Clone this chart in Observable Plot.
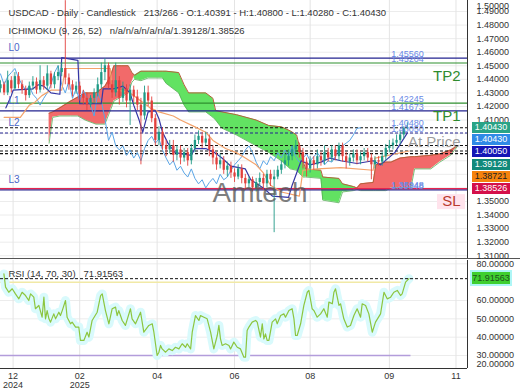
<!DOCTYPE html>
<html><head><meta charset="utf-8">
<script src="https://cdn.jsdelivr.net/npm/d3@7"></script>
<script src="https://cdn.jsdelivr.net/npm/@observablehq/plot@0.6"></script>
<style>
body{margin:0;background:#fff;}
#wrap{position:relative;width:520px;height:390px;overflow:hidden;font-family:"Liberation Sans",Arial,sans-serif;background:#fff;}
#wrap svg{position:absolute;left:0;}
.box{position:absolute;left:472px;width:38px;height:11px;font-size:9px;line-height:11px;text-align:center;}
</style></head><body><div id="wrap"></div>
<script>
// ---------- DATA ----------
const firstOpen = 1.433;
// candles, one every 2 bars (bar = 2*k)
const closes = [1.436,1.430,1.439,1.433,1.442,1.436,1.432,1.428,1.435,1.438,1.432,1.439,1.435,1.444,1.436,1.442,1.445,1.448,1.441,1.436,
1.432,1.435,1.429,1.426,1.421,1.426,1.430,1.436,1.445,1.450,1.436,1.430,1.439,1.426,1.433,1.424,1.432,1.427,1.421,1.413,
1.430,1.424,1.411,1.395,1.401,1.391,1.388,1.391,1.384,1.388,1.382,1.386,1.380,1.389,1.395,1.398,1.393,1.396,1.388,1.382,
1.377,1.380,1.373,1.376,1.371,1.368,1.374,1.367,1.363,1.366,1.360,1.364,1.367,1.363,1.370,1.366,1.368,1.373,1.377,1.380,
1.383,1.388,1.391,1.386,1.379,1.374,1.380,1.377,1.383,1.380,1.386,1.382,1.388,1.383,1.391,1.383,1.379,1.382,1.385,1.380,
1.383,1.386,1.382,1.377,1.380,1.379,1.383,1.389,1.391,1.393,1.395,1.399,1.4039,1.4043];
const highs = [1.439,1.438,1.446,1.442,1.445,1.445,1.439,1.435,1.438,1.442,1.441,1.450,1.442,1.450,1.446,1.445,1.450,1.452,1.498,1.444,
1.439,1.438,1.438,1.432,1.430,1.428,1.433,1.441,1.452,1.455,1.452,1.439,1.452,1.442,1.438,1.436,1.436,1.435,1.432,1.426,
1.435,1.435,1.427,1.414,1.405,1.404,1.395,1.395,1.395,1.391,1.391,1.389,1.389,1.392,1.399,1.402,1.401,1.401,1.399,1.391,
1.386,1.385,1.383,1.379,1.379,1.374,1.377,1.377,1.370,1.368,1.368,1.367,1.371,1.370,1.373,1.373,1.373,1.376,1.380,1.385,
1.388,1.391,1.395,1.393,1.389,1.382,1.383,1.383,1.388,1.386,1.391,1.389,1.391,1.391,1.393,1.393,1.386,1.385,1.388,1.388,
1.386,1.389,1.389,1.385,1.383,1.383,1.386,1.392,1.395,1.396,1.399,1.402,1.405,1.408];
const lows = [1.430,1.428,1.428,1.430,1.432,1.433,1.429,1.424,1.426,1.432,1.429,1.430,1.432,1.432,1.433,1.433,1.439,1.442,1.436,1.432,
1.427,1.429,1.424,1.421,1.417,1.419,1.423,1.427,1.433,1.439,1.433,1.426,1.427,1.421,1.423,1.419,1.406,1.423,1.417,1.377,
1.410,1.420,1.408,1.391,1.391,1.388,1.383,1.385,1.379,1.380,1.377,1.379,1.376,1.377,1.386,1.392,1.389,1.391,1.383,1.377,
1.373,1.374,1.370,1.368,1.367,1.364,1.366,1.363,1.358,1.360,1.357,1.357,1.361,1.358,1.360,1.361,1.327,1.366,1.370,1.374,
1.376,1.380,1.385,1.382,1.374,1.368,1.371,1.373,1.374,1.376,1.377,1.379,1.379,1.380,1.380,1.379,1.374,1.376,1.379,1.377,
1.377,1.380,1.379,1.366,1.374,1.376,1.376,1.380,1.386,1.388,1.391,1.392,1.396,1.4028];

const tenkanBar = [3,6,7,18,21,24,28,33,34,43,44,56,57,63,68,72,74,77,79,82,86,88,90,93,97,106,108,114,119,123,128,136,139,146,151,160,162,167,172,178,183,189,198,207,211,219,226];
const tenkanVal = [1.419,1.428,1.432,1.433,1.436,1.435,1.430,1.429,1.456,1.454,1.422,1.422,1.433,1.433,1.435,1.430,1.421,1.410,1.401,1.416,1.417,1.411,1.401,1.393,1.386,1.384,1.389,1.389,1.386,1.382,1.376,1.374,1.366,1.360,1.354,1.353,1.362,1.380,1.377,1.379,1.382,1.380,1.378,1.380,1.377,1.386,1.4005];

const kijunBar = [2,11,16,19,23,28,34,36,61,62,72,78,83,88,96,100,108,114,118,125,131,136,142,146,150,156,166,168,176,189,207,208,227];
const kijunVal = [1.412,1.412,1.421,1.423,1.428,1.432,1.432,1.448,1.448,1.433,1.430,1.424,1.419,1.416,1.413,1.410,1.405,1.401,1.395,1.389,1.386,1.382,1.377,1.371,1.362,1.357,1.354,1.373,1.374,1.375,1.373,1.382,1.3872];

const cloudBar = [27,29,33,39,43,47,53,58,61,63,67,71,73,74.5,78,82,90,92,99,102,104.5,114,118,119.5,123,131,142,149,156,161,164.5,168,169.5,178,179,188,190,196,198,200,207,208.5,214,217,222,228,230,239,244,250,254];
const senkouA = [1.393,1.412,1.413,1.413,1.413,1.410,1.407,1.407,1.417,1.424,1.427,1.430,1.438,1.443,1.446,1.446,1.446,1.446,1.445,1.436,1.430,1.430,1.426,1.417,1.416,1.414,1.410,1.406,1.405,1.402,1.399,1.380,1.374,1.373,1.368,1.367,1.363,1.361,1.359,1.358,1.358,1.358,1.358,1.360,1.360,1.360,1.374,1.374,1.379,1.384,1.391];
const senkouB = [1.415,1.416,1.419,1.424,1.427,1.430,1.430,1.435,1.442,1.450,1.450,1.450,1.445,1.440,1.439,1.441,1.441,1.437,1.430,1.421,1.416,1.416,1.412,1.410,1.404,1.399,1.391,1.386,1.380,1.374,1.373,1.368,1.368,1.367,1.351,1.349,1.357,1.358,1.360,1.363,1.364,1.377,1.379,1.379,1.382,1.383,1.383,1.384,1.385,1.388,1.391];

const rsiBar = [1.9,2.8,4.6,6.5,8.3,10.2,12.0,13.9,15.7,16.7,18.5,19.4,21.3,23.1,24.1,25.0,25.9,26.9,27.8,29.6,30.6,32.4,33.3,34.3,36.1,37.0,38.9,39.8,41.7,43.5,44.4,46.3,48.1,49.1,50.9,53.7,55.6,56.5,58.3,60.2,62.0,63.9,64.8,65.7,67.6,69.4,72.2,73.1,75.0,77.8,78.7,79.6,82.4,84.3,85.2,87.0,88.0,88.9,89.8,91.7,93.5,95.4,97.2,99.1,100.9,102.8,103.7,105.6,106.5,108.3,110.2,111.1,113.0,114.8,116.7,118.5,120.4,121.3,122.2,123.1,125.0,126.9,127.8,129.6,131.5,133.3,135.2,136.1,137.0,138.0,139.8,141.7,142.6,144.4,145.4,146.3,147.2,148.1,149.1,150.9,152.8,153.7,155.6,157.4,158.3,160.2,162.0,163.0,163.9,164.8,166.7,168.5,170.4,171.3,173.1,174.1,175.9,177.8,179.6,181.5,182.4,184.3,185.2,186.1,188.0,188.9,190.7,192.6,194.4,196.3,198.1,200.0,200.9,202.8,204.6,206.5,208.3,211.1,213.0,214.8,216.7,218.5,220.4,222.2,223.1,225.0,226.9];
const rsiVal = [74.5,67.3,64.5,66.4,63.6,60.9,64.5,62.7,60.0,63.6,61.8,55.5,57.3,50.9,61.8,50.0,54.5,50.0,48.2,52.7,50.0,53.6,51.8,54.5,60.0,50.9,47.3,48.2,45.5,45.5,38.2,38.2,42.7,40.0,49.1,53.6,62.7,63.6,54.5,47.3,55.5,56.4,51.8,54.5,49.1,46.4,55.5,50.0,47.3,53.6,48.2,42.7,46.4,47.3,42.7,30.0,31.8,35.5,33.6,31.8,33.6,32.7,34.5,33.6,36.4,34.5,36.4,33.6,42.7,51.8,49.1,51.8,50.9,50.0,42.7,33.6,40.9,46.4,39.1,35.5,36.4,35.5,33.6,37.3,34.5,33.6,29.1,29.1,43.6,45.5,48.2,49.1,48.2,40.0,47.3,39.1,41.8,38.2,38.2,48.2,50.0,47.3,51.8,52.7,50.9,54.5,55.5,50.0,40.9,40.9,47.3,57.3,64.5,65.5,55.5,54.5,50.9,52.7,55.5,50.9,59.1,58.2,64.5,66.4,57.3,58.2,50.0,45.5,46.4,51.8,55.5,50.9,58.2,57.3,52.7,42.7,48.2,52.7,64.5,60.9,61.8,64.5,65.5,62.7,63.6,70.0,71.91563];

const priceTicks = [1.31,1.32,1.33,1.34,1.35,1.36,1.37,1.38,1.39,1.40,1.41,1.42,1.43,1.44,1.45,1.46,1.47,1.48,1.49];
const topTick = 1.50;
const rsiTicks = [80,60,50,40,30];
const rsiLowTick = 20;
const tickBars = [7,44,87,130,172,216,253];
const tickLabels = ["12\n2024","02\n2025","04","06","08","09","11"];

const levelPrices = [1.4556,1.45204,1.42245,1.41673,1.3585,1.35948];
const priceLabelVals = [1.4556,1.45204,1.42245,1.41673,1.4048,1.4005,1.35948,1.3585];
const priceLabelText = ["1.45560","1.45204","1.42245","1.41673","1.40480","1.40050","1.35948","1.35848"];
const dashPrices = [1.4043,1.4005,1.39128,1.38721,1.38526];
const lPrices = [1.4556,1.41673,1.4005,1.3585];
const lText = ["L0","L1","L2","L3"];
const tpPrices = [1.45204,1.42245,1.35948];
const tpText = ["TP2","TP1","SL"];
const boxValues = [1.4043,1.4043,1.4005,1.39128,1.38721,1.38526];
const boxLabels = ["1.40430","1.40430","1.40050","1.39128","1.38721","1.38526"];
const rsiLast = 71.91563;
const header1 = "USDCAD - Daily - Candlestick   213/266 - O:1.40391 - H:1.40800 - L:1.40280 - C:1.40430";
const header2 = "ICHIMOKU (9, 26, 52)   n/a/n/a/n/a/n/a/1.39128/1.38526";
const rsiHeader = "RSI (14, 70, 30)   71.91563";
const watermark = "Amtech";

// ---------- STYLE ----------
const FONT = "'Liberation Sans', Arial, sans-serif";
const UP = "#1f9a86", DN = "#e2403c";
const NAVY = "#23238f", GREEN = "#2f8f2f", RED = "#e8254f";
const levelColors = [NAVY, GREEN, GREEN, NAVY, NAVY, RED];
const dashColors = ["#111", NAVY, "#111", "#111", "#111"];
const tpColors = ["#2e8b2e", "#2e8b2e", "#b83a2e"];
const boxBg = ["#2aa386","#2f8ae6","#1515b5","#11897a","#f5820d","#d4104a"];
const boxFg = ["#fff","#fff","#fff","#fff","#222","#fff"];

const W = 520, PLOTW = 467, MAINH = 260, MAINB = 2;
const xDomain = [0, 259.4];
const pxBar = (xDomain[1] - xDomain[0]) / PLOTW;
const yDomain = [1.30797, 1.49811];
const rsiDomain = [22.91, 81.82];
const lastBar = 2 * (closes.length - 1);

// ---------- DERIVED TABLES ----------
const candles = closes.map((c, k) => ({x: 2 * k, o: k ? closes[k - 1] : firstOpen, c, h: highs[k], l: lows[k]}));
candles.forEach(d => d.col = d.c >= d.o ? UP : DN);
const chikou = closes.map((c, k) => ({x: 2 * k - 26, y: c})).filter(d => d.x >= 0);
const tenkan = tenkanBar.map((b, i) => ({x: b, y: tenkanVal[i]}));
const kijun = kijunBar.map((b, i) => ({x: b, y: kijunVal[i]}));
const cloud = cloudBar.map((b, i) => ({x: b, a: senkouA[i], b: senkouB[i], top: Math.max(senkouA[i], senkouB[i]), bot: Math.min(senkouA[i], senkouB[i])}));
const rsi = rsiBar.map((b, i) => ({x: b, y: rsiVal[i]}));
const fmtLabel = new Map(tickBars.map((b, i) => [b, tickLabels[i]]));

// value boxes on the price axis: stacked so they do not overlap
const yScale = Plot.scale({y: {domain: yDomain, range: [MAINH - MAINB, 0]}});
const boxPos = [];
let prev = -Infinity;
boxValues.forEach(v => { const py = Math.max(yScale.apply(v), prev + 12.3); boxPos.push(py); prev = py; });
const bandTop = boxPos[0] - 6, bandBot = boxPos[boxPos.length - 1] + 6;
const shownTicks = priceTicks.filter(t => { const p = yScale.apply(t); return p < bandTop || p > bandBot; });

const main = Plot.plot({
  width: W, height: MAINH, marginLeft: 0, marginRight: W - PLOTW, marginTop: 0, marginBottom: MAINB,
  x: {domain: xDomain, axis: null},
  y: {domain: yDomain, axis: null},
  color: {type: "identity"},
  style: {fontFamily: FONT, background: "transparent", overflow: "visible"},
  marks: [
    Plot.ruleY(priceTicks, {stroke: "#ececec"}),
    Plot.ruleX(tickBars, {stroke: "#e4e4e4"}),
    Plot.areaY(cloud, {x: "x", y1: "b", y2: "top", fill: "#62e262"}),
    Plot.areaY(cloud, {x: "x", y1: "a", y2: "top", fill: "#f26a6a"}),
    Plot.line(cloud, {x: "x", y: "top", stroke: "#b4623c", strokeWidth: 1}),
    Plot.line(cloud, {x: "x", y: "bot", stroke: "#58b058", strokeWidth: 0.8}),
    Plot.ruleY(levelPrices, {stroke: (d, i) => levelColors[i], strokeWidth: 1.2}),
    Plot.ruleY(dashPrices, {stroke: (d, i) => dashColors[i], strokeDasharray: "3,2", strokeWidth: 1.1}),
    Plot.ruleY(tpPrices.slice(2), {x1: 437 * pxBar, x2: 465 * pxBar, dy: 13, stroke: "#ffe3ec", strokeWidth: 15}),
    Plot.line(chikou, {x: "x", y: "y", stroke: "#5aa5e6", strokeWidth: 1}),
    Plot.line(kijun, {x: "x", y: "y", stroke: "#f4a36b", strokeWidth: 1.2}),
    Plot.line(tenkan, {x: "x", y: "y", stroke: "#3535a5", strokeWidth: 1.2}),
    Plot.ruleX(candles, {x: "x", y1: "l", y2: "h", stroke: "col", strokeWidth: 0.9}),
    Plot.ruleX(candles, {x: "x", y1: "o", y2: "c", stroke: "col", strokeWidth: 2.3}),
    Plot.text([watermark], {frameAnchor: "middle", dx: 26, dy: 64, fontSize: 28, fill: "#555", fillOpacity: 0.75}),
    Plot.text(priceLabelText, {x: 217, y: priceLabelVals, text: d => d, textAnchor: "start", lineAnchor: "bottom", dy: -1, fontSize: 9, fill: "#6a8ae6"}),
    Plot.text(lText, {y: lPrices, text: d => d, frameAnchor: "left", dx: 8, dy: -10, textAnchor: "start", fontSize: 10, fill: "#4a66c8"}),
    Plot.text(tpText, {y: tpPrices, text: d => d, frameAnchor: "right", dx: -7, dy: 13, textAnchor: "end", fontSize: 15, fill: (d, i) => tpColors[i]}),
    Plot.text(["At Price"], {y: [boxValues[0]], text: d => d, frameAnchor: "right", dx: -7, dy: 14, textAnchor: "end", fontSize: 15, fill: "#8a8a8a", fillOpacity: 0.85}),
    Plot.ruleX([xDomain[1]], {stroke: "#333"}),
    Plot.ruleY([yDomain[0]], {x1: xDomain[0], x2: W * pxBar, stroke: "#555"}),
    Plot.axisY(shownTicks, {anchor: "right", label: null, tickSize: 0, tickPadding: 9, tickFormat: d => d.toFixed(5), fontSize: 9, fill: "#333"}),
    Plot.text([topTick], {y: [Math.min(topTick, yDomain[1] - 0.0045)], text: d => d.toFixed(5), frameAnchor: "right", dx: 9, textAnchor: "start", fontSize: 9, fill: "#333"}),
    Plot.text([header1], {frameAnchor: "top-left", dx: 8, dy: 12, textAnchor: "start", lineAnchor: "middle", fontSize: 9.5, fill: "#333"}),
    Plot.text([header2], {frameAnchor: "top-left", dx: 8, dy: 30, textAnchor: "start", lineAnchor: "middle", fontSize: 9.5, fill: "#333"})
  ]
});

const rsiPlot = Plot.plot({
  width: W, height: 132, marginLeft: 0, marginRight: W - PLOTW, marginTop: 2, marginBottom: 22,
  x: {domain: xDomain, axis: null},
  y: {domain: rsiDomain, axis: null},
  style: {fontFamily: FONT, background: "transparent", overflow: "visible"},
  marks: [
    Plot.ruleY(rsiTicks, {stroke: "#ececec"}),
    Plot.ruleX(tickBars, {stroke: "#e4e4e4"}),
    Plot.ruleY([70], {x1: 0, x2: lastBar + 2, stroke: "#f1e9a6", strokeWidth: 1.5}),
    Plot.ruleY([30], {x1: 0, x2: lastBar + 2, stroke: "#b39ddb", strokeWidth: 1.5}),
    Plot.line(rsi, {x: "x", y: "y", stroke: "#d9fafc", strokeWidth: 9}),
    Plot.line(rsi, {x: "x", y: "y", stroke: "#8cc63f", strokeWidth: 1.2}),
    Plot.ruleY([rsiLast], {stroke: "#111", strokeDasharray: "3,2"}),
    Plot.ruleX([xDomain[1]], {stroke: "#333"}),
    Plot.ruleY([rsiDomain[0]], {stroke: "#333"}),
    Plot.axisY(rsiTicks, {anchor: "right", label: null, tickSize: 0, tickPadding: 9, tickFormat: d => d.toFixed(5), fontSize: 9, fill: "#333"}),
    Plot.text([rsiLowTick], {y: [Math.max(rsiLowTick, rsiDomain[0] + 2.2)], text: d => d.toFixed(5), frameAnchor: "right", dx: 9, textAnchor: "start", fontSize: 9, fill: "#333"}),
    Plot.axisX(tickBars, {anchor: "bottom", label: null, tickSize: 0, tickPadding: 4, tickFormat: d => fmtLabel.get(d), fontSize: 9, fill: "#333"}),
    Plot.text([rsiHeader], {frameAnchor: "top-left", dx: 8, dy: 13, textAnchor: "start", lineAnchor: "middle", fontSize: 9.5, fill: "#333"})
  ]
});

const wrap = document.getElementById("wrap");
main.style.top = "0px";
rsiPlot.style.top = "258px";
wrap.appendChild(main);
wrap.appendChild(rsiPlot);

boxValues.forEach((v, i) => {
  const d = document.createElement("div");
  d.className = "box";
  d.style.top = (boxPos[i] - 5.5) + "px";
  d.style.background = boxBg[i];
  d.style.color = boxFg[i];
  d.textContent = boxLabels[i];
  wrap.appendChild(d);
});
const yr = rsiPlot.scale("y");
const rb = document.createElement("div");
rb.className = "box";
rb.style.top = (258 + yr.apply(rsiLast) - 6) + "px";
rb.style.background = "#3fcf2f";
rb.style.color = "#1c4f1c";
rb.style.height = "12px";
rb.style.lineHeight = "12px";
rb.style.boxShadow = "0 0 0 2px #aef6f6";
rb.textContent = rsiLast.toFixed(5);
wrap.appendChild(rb);
</script></body></html>
